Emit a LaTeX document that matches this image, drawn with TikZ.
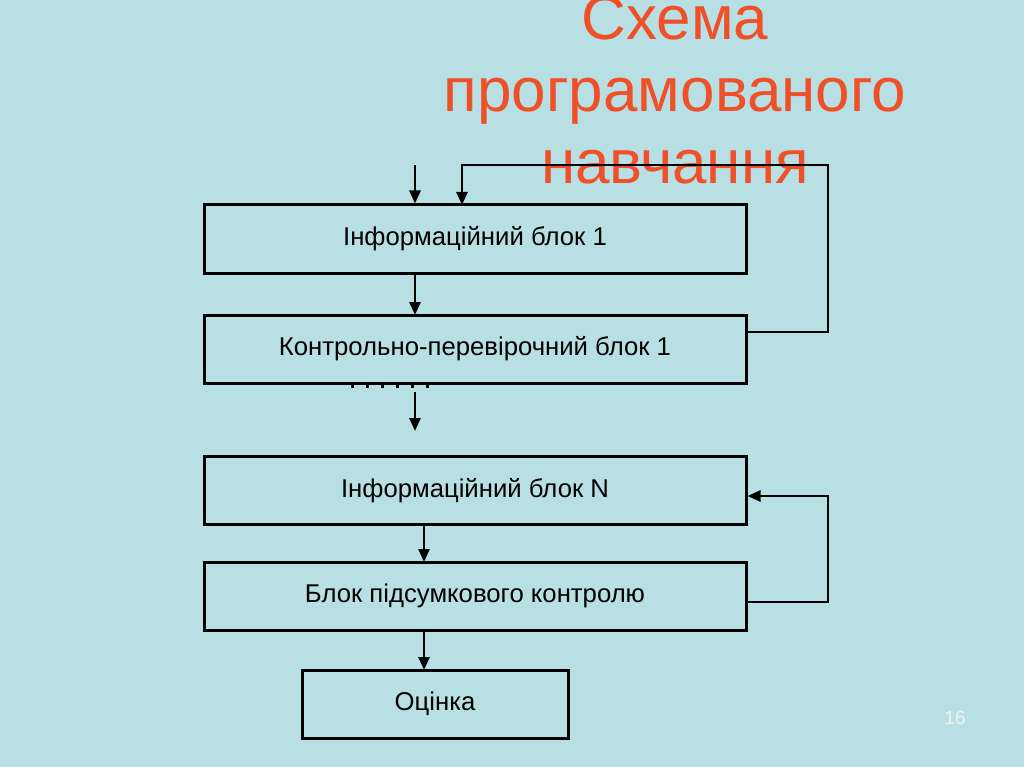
\documentclass[tikz,border=0pt]{standalone}
\usepackage{fontspec}
\setmainfont{Liberation Sans}
\usetikzlibrary{arrows.meta}
\definecolor{bg}{RGB}{184,224,228}
\definecolor{ttl}{RGB}{240,80,40}
\tikzset{blk/.style={draw,line width=3pt,minimum height=68pt,font=\fontsize{25.7}{30}\selectfont,inner sep=0pt},
ar/.style={line width=2.5pt,-{Triangle[length=13pt,width=11pt]}},
ln/.style={line width=2.5pt}}
\begin{document}
\begin{tikzpicture}[x=1pt,y=-1pt]
\fill[bg] (0,0) rectangle (1024,767);
\useasboundingbox (0,0) rectangle (1024,767);
\begin{scope}
\clip (0,0) rectangle (1024,767);
\node[text=ttl,font=\fontsize{62}{72}\selectfont,align=center] (t) at (675,90) {Схема\\програмованого\\навчання};
\end{scope}
\node[blk,minimum width=542pt] (b1) at (475,239) {Інформаційний блок 1};
\node[blk,minimum width=542pt] (b2) at (475,349) {Контрольно-перевірочний блок 1};
\node[blk,minimum width=542pt] (b3) at (475,490.5) {Інформаційний блок N};
\node[blk,minimum width=542pt] (b4) at (475,596) {Блок підсумкового контролю};
\node[blk,minimum width=266pt] (b5) at (435,704) {Оцінка};
\coordinate (s1) at (415,165);
\coordinate (s2) at (415,392);
\coordinate (e2) at (415,431);
\draw[ar] (s1) -- (s1|-b1.north);
\draw[ar] (415,273) -- (415,315);
\draw[ar] (s2) -- (e2);
\draw[ln] (b2.east|-0,332) -- (828,332) -- (828,165) -- (462,165);
\draw[ar] (462,163.8) -- (462,205);
\draw[ar] (424,524) -- (424,562);
\draw[ar] (424,630) -- (424,670);
\draw[ln] (b4.east|-0,602) -- (828,602) -- (828,496);
\draw[ar] (829.2,496) -- (b3.east|-0,496);
\foreach \x in {352,367,382,397,412,427} \fill (\x-1.5,384) rectangle (\x+1.5,388);
\node[text=white!90!gray,font=\fontsize{19}{22}\selectfont] (pg) at (955,718) {16};
\end{tikzpicture}
\end{document}
